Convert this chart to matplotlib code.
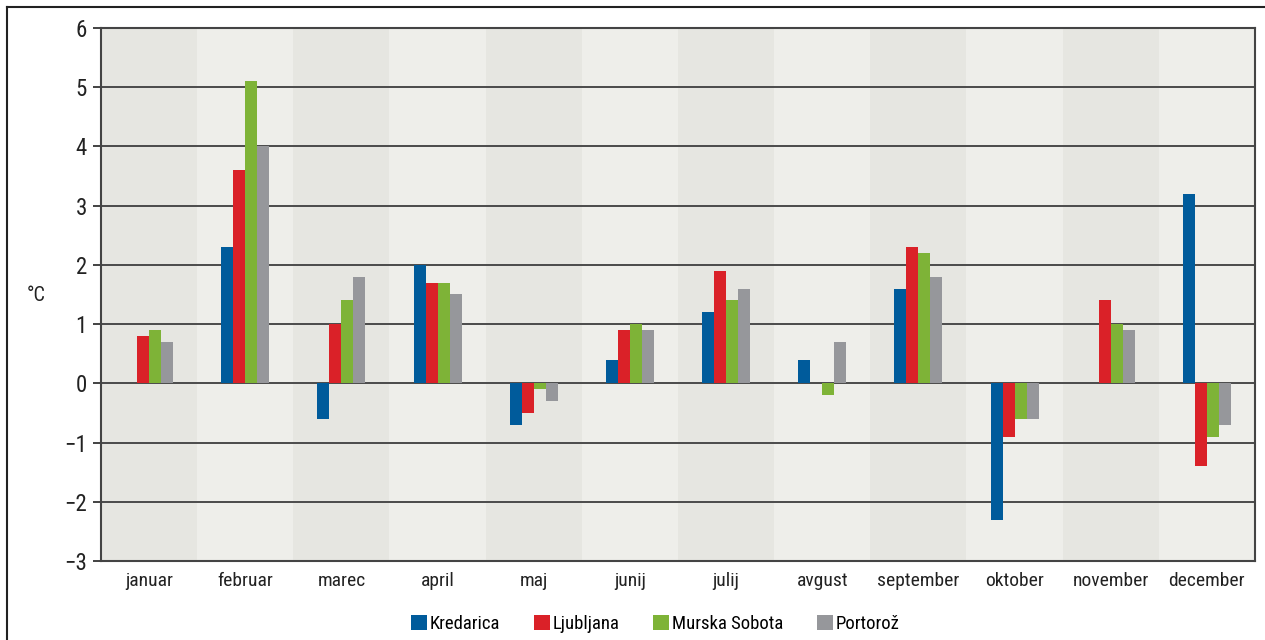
import numpy as np
import matplotlib.pyplot as plt
from matplotlib import font_manager
from matplotlib.patches import Patch
from matplotlib.lines import Line2D

# pick a narrow face if one is installed
names = {f.name for f in font_manager.fontManager.ttflist}
narrow = [n for n in ['Liberation Sans Narrow', 'DejaVu Sans Condensed',
                      'Roboto Condensed', 'Open Sans Condensed'] if n in names]
plt.rcParams['font.family'] = narrow + ['DejaVu Sans']
plt.rcParams['font.stretch'] = 'condensed'

# Temperature anomalies per month (°C)
months = ['januar', 'februar', 'marec', 'april', 'maj', 'junij',
          'julij', 'avgust', 'september', 'oktober', 'november', 'december']
kredarica = [0.0, 2.3, -0.6, 2.0, -0.7, 0.4, 1.2, 0.4, 1.6, -2.3, 0.0, 3.2]
ljubljana = [0.8, 3.6, 1.0, 1.7, -0.5, 0.9, 1.9, 0.0, 2.3, -0.9, 1.4, -1.4]
murska_sobota = [0.9, 5.1, 1.4, 1.7, -0.1, 1.0, 1.4, -0.2, 2.2, -0.6, 1.0, -0.9]
portoroz = [0.7, 4.0, 1.8, 1.5, -0.3, 0.9, 1.6, 0.7, 1.8, -0.6, 0.9, -0.7]

series = [('Kredarica', kredarica, '#005b9b'),
          ('Ljubljana', ljubljana, '#da2128'),
          ('Murska Sobota', murska_sobota, '#7eb337'),
          ('Portorož', portoroz, '#96979b')]

fig = plt.figure(figsize=(12.65, 6.4), dpi=100)
ax = fig.add_axes([0.0798, 0.1234, 0.9123, 0.8329])

# alternating background bands, one per month
for i in range(len(months)):
    ax.axvspan(i - 0.5, i + 0.5, color='#e6e6e1' if i % 2 == 0 else '#eeeeea',
               lw=0, zorder=0)

for y in range(-3, 7):
    ax.axhline(y, color='#4a4a4a', lw=1.4, zorder=1)

x = np.arange(len(months))
w = 0.125
for k, (name, vals, col) in enumerate(series):
    ax.bar(x + (k - 1.5) * w, vals, width=w, color=col, zorder=2, label=name)

ax.set_xlim(-0.5, len(months) - 0.5)
ax.set_ylim(-3, 6)
ax.set_yticks(range(-3, 7))
ax.set_yticklabels([str(v).replace('-', '\u2212') for v in range(-3, 7)])
ax.set_xticks(x)
ax.set_xticklabels(months)
ax.tick_params(axis='x', length=0, pad=8, labelsize=14, colors='#222222')
ax.tick_params(axis='y', length=6, width=1.2, direction='out', pad=4,
               labelsize=16.5, colors='#222222')
for s in ax.spines.values():
    s.set_color('#444444')
    s.set_linewidth(1.5)

fig.text(0.029, 0.538, '°C', fontsize=14.5, color='#222222', ha='center', va='center')

handles = [Patch(facecolor=c, edgecolor='none', label=n) for n, _, c in series]
fig.legend(handles=handles, loc='center', bbox_to_anchor=(0.518, 0.025), ncol=4,
           frameon=False, fontsize=13.5, handlelength=0.85, handleheight=0.85,
           handletextpad=0.15, columnspacing=1.8)

# outer frame lines along the left and top edges
fig.add_artist(Line2D([0.0055, 0.0055], [0, 0.989], color='#222222', lw=1.5,
                      transform=fig.transFigure))
fig.add_artist(Line2D([0.0055, 1], [0.989, 0.989], color='#222222', lw=1.5,
                      transform=fig.transFigure))

plt.savefig('out.png', dpi=100)
